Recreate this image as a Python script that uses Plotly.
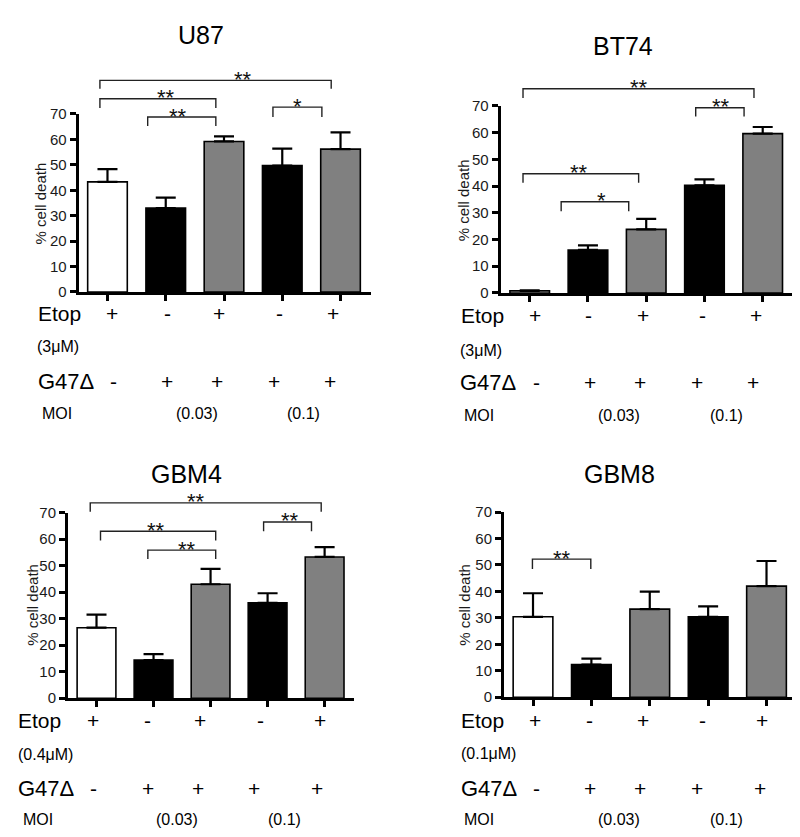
import plotly.graph_objects as go

# ---------------- data ----------------
positions = [0, 1, 2, 3, 4]
etop_signs = ["+", "-", "+", "-", "+"]
g47_signs = ["-", "+", "+", "+", "+"]
moi_labels = ["(0.03)", "(0.1)"]
bar_colors = ["#ffffff", "#000000", "#808080", "#000000", "#808080"]
y_ticks = [0, 10, 20, 30, 40, 50, 60, 70]

panel_names = ["U87", "BT74", "GBM4", "GBM8"]
etop_doses = ["(3μM)", "(3μM)", "(0.4μM)", "(0.1μM)"]

u87_mean = [43.3, 33.0, 59.2, 49.7, 56.2]
u87_err = [5.0, 4.1, 2.0, 6.7, 6.6]
bt74_mean = [0.8, 16.1, 23.8, 40.3, 59.6]
bt74_err = [0.2, 1.7, 3.9, 2.2, 2.5]
gbm4_mean = [26.6, 14.4, 43.0, 36.0, 53.3]
gbm4_err = [4.9, 2.2, 5.8, 3.6, 3.7]
gbm8_mean = [30.4, 12.3, 33.3, 30.4, 42.0]
gbm8_err = [8.9, 2.3, 6.6, 3.9, 9.5]

# significance brackets: (x_left, x_right, y_line, y_leg, star_x, label)
u87_sig = [(-0.13, 3.84, 83.2, 79.9, 2.33, "**"),
           (-0.13, 1.86, 76.0, 72.4, 1.01, "**"),
           (0.69, 1.86, 68.8, 65.3, 1.21, "**"),
           (2.84, 3.68, 72.7, 68.8, 3.27, "*")]
bt74_sig = [(-0.115, 3.85, 76.4, 72.9, 1.87, "**"),
            (2.85, 3.68, 69.3, 66.0, 3.29, "**"),
            (-0.115, 1.87, 44.6, 41.2, 0.85, "**"),
            (0.54, 1.70, 34.1, 30.6, 1.23, "*")]
gbm4_sig = [(-0.11, 3.94, 73.7, 70.4, 1.75, "**"),
            (0.07, 2.09, 63.0, 59.5, 1.05, "**"),
            (0.90, 2.09, 55.9, 52.5, 1.59, "**"),
            (2.93, 3.77, 66.5, 63.0, 3.40, "**")]
gbm8_sig = [(-0.01, 0.99, 52.2, 48.5, 0.50, "**")]

means = [u87_mean, bt74_mean, gbm4_mean, gbm8_mean]
errs = [u87_err, bt74_err, gbm4_err, gbm8_err]
sigs = [u87_sig, bt74_sig, gbm4_sig, gbm8_sig]

# ---------------- layout geometry (pixels in 800x837) ----------------
W, H = 800, 837
FONT = "Liberation Sans, Arial, sans-serif"

def fx(px):
    return px / W

def fy(py):
    return 1 - py / H

panels = [
    dict(xpx=(70.7, 362.7), ypx=(280.7, 99.0), xr=[-0.494, 4.518],
         title=(193, 18), ylab=(32.3, 190),
         rows=dict(etop=(28, 303), dose=(26.7, 336.7), g47=(27.7, 371.7), moi=(32, 405)),
         etop_x=[104.3, 159.3, 211, 271, 325], g47_x=[105.3, 159.3, 209.3, 265.7, 322.3],
         moi_x=[189, 295.7]),
    dict(xpx=(492.7, 785.0), ypx=(281.7, 90.7), xr=[-0.498, 4.52],
         title=(615, 30), ylab=(455, 187),
         rows=dict(etop=(450.7, 305), dose=(450, 340), g47=(450, 373.3), moi=(454.3, 406.7)),
         etop_x=[526.7, 580.3, 635, 694, 748.3], g47_x=[528.3, 581.7, 632.3, 688.7, 745],
         moi_x=[610.7, 718.3]),
    dict(xpx=(60.0, 345.7), ypx=(695.3, 506.0), xr=[-0.5, 4.51],
         title=(178.3, 466.7), ylab=(25, 600),
         rows=dict(etop=(8.3, 718.3), dose=(8.3, 752.7), g47=(8.3, 787.3), moi=(12.7, 819.3)),
         etop_x=[85, 139.3, 192.3, 252.3, 312.3], g47_x=[85.7, 140, 190, 246, 309.3],
         moi_x=[169.3, 276.7]),
    dict(xpx=(496.0, 787.7), ypx=(694.3, 505.3), xr=[-0.497, 4.5],
         title=(611.7, 466.7), ylab=(457, 600),
         rows=dict(etop=(450.7, 718.3), dose=(450.7, 751.7), g47=(450.7, 787.3), moi=(454.3, 819.3)),
         etop_x=[526.7, 581, 635, 694.3, 754], g47_x=[528.3, 581.7, 632.3, 688.7, 751.7],
         moi_x=[610.7, 718.3]),
]

fig = go.Figure()
shapes = []
annotations = []
layout_axes = {}

for k, p in enumerate(panels):
    xa = "x" if k == 0 else f"x{k+1}"
    ya = "y" if k == 0 else f"y{k+1}"
    xdom = [fx(p["xpx"][0]), fx(p["xpx"][1])]
    ydom = [fy(p["ypx"][0]), fy(p["ypx"][1])]

    m = means[k]
    e = errs[k]
    fig.add_trace(go.Bar(
        x=positions, y=m, xaxis=xa, yaxis=ya, width=0.68,
        marker=dict(color=bar_colors, line=dict(color="black", width=1.6)),
        error_y=dict(type="data", array=e, arrayminus=[0] * len(e), symmetric=False,
                     color="black", thickness=2.2, width=10),
        showlegend=False, hoverinfo="skip",
    ))

    axkey_x = "xaxis" if k == 0 else f"xaxis{k+1}"
    axkey_y = "yaxis" if k == 0 else f"yaxis{k+1}"
    layout_axes[axkey_x] = dict(
        domain=xdom, range=p["xr"], anchor=ya, showgrid=False, zeroline=False,
        showline=True, linecolor="black", linewidth=3,
        tickmode="array", tickvals=positions, ticks="outside", ticklen=6,
        tickwidth=2.5, tickcolor="black", showticklabels=False, fixedrange=True)
    layout_axes[axkey_y] = dict(
        domain=ydom, range=[0, 70], anchor=xa, showgrid=False, zeroline=False,
        showline=True, linecolor="black", linewidth=3,
        tickmode="array", tickvals=y_ticks, ticks="outside", ticklen=6,
        tickwidth=2.5, tickcolor="black",
        tickfont=dict(family=FONT, size=15, color="#1a1a1a"), fixedrange=True)

    def ypaper(v, ydom=ydom):
        return ydom[0] + v / 70.0 * (ydom[1] - ydom[0])

    # brackets
    for (xl, xr_, yl, yleg, sx, lab) in sigs[k]:
        shapes.append(dict(type="path", xref=xa, yref="paper",
                           path=f"M {xl} {ypaper(yleg)} L {xl} {ypaper(yl)} L {xr_} {ypaper(yl)} L {xr_} {ypaper(yleg)}",
                           line=dict(color="#222", width=1.4)))
        annotations.append(dict(x=sx, y=ypaper(yl), xref=xa, yref="paper", text=lab,
                                showarrow=False, xanchor="center", yanchor="middle", yshift=1,
                                font=dict(family=FONT, size=22, color="#111")))

    # title
    annotations.append(dict(x=fx(p["title"][0]), y=fy(p["title"][1]), xref="paper", yref="paper",
                            text=panel_names[k], showarrow=False, xanchor="center", yanchor="middle",
                            font=dict(family=FONT, size=25, color="black")))
    # y label
    annotations.append(dict(x=fx(p["ylab"][0]), y=fy(p["ylab"][1]), xref="paper", yref="paper",
                            text="% cell death", textangle=-90, showarrow=False,
                            xanchor="center", yanchor="middle",
                            font=dict(family=FONT, size=15, color="#1a1a1a")))
    rows = p["rows"]
    annotations.append(dict(x=fx(rows["etop"][0]), y=fy(rows["etop"][1]), xref="paper", yref="paper",
                            text="Etop", showarrow=False, xanchor="left", yanchor="middle",
                            font=dict(family=FONT, size=21, color="black")))
    annotations.append(dict(x=fx(rows["dose"][0]), y=fy(rows["dose"][1]), xref="paper", yref="paper",
                            text=etop_doses[k], showarrow=False, xanchor="left", yanchor="middle",
                            font=dict(family=FONT, size=16, color="black")))
    annotations.append(dict(x=fx(rows["g47"][0]), y=fy(rows["g47"][1]), xref="paper", yref="paper",
                            text="G47Δ", showarrow=False, xanchor="left", yanchor="middle",
                            font=dict(family=FONT, size=22, color="black")))
    annotations.append(dict(x=fx(rows["moi"][0]), y=fy(rows["moi"][1]), xref="paper", yref="paper",
                            text="MOI", showarrow=False, xanchor="left", yanchor="middle",
                            font=dict(family=FONT, size=16, color="black")))
    for s, xpx in zip(etop_signs, p["etop_x"]):
        annotations.append(dict(x=fx(xpx), y=fy(rows["etop"][1]), xref="paper", yref="paper",
                                text=s, showarrow=False, xanchor="center", yanchor="middle",
                                font=dict(family=FONT, size=21, color="black")))
    for s, xpx in zip(g47_signs, p["g47_x"]):
        annotations.append(dict(x=fx(xpx), y=fy(rows["g47"][1]), xref="paper", yref="paper",
                                text=s, showarrow=False, xanchor="center", yanchor="middle",
                                font=dict(family=FONT, size=21, color="black")))
    for s, xpx in zip(moi_labels, p["moi_x"]):
        annotations.append(dict(x=fx(xpx), y=fy(rows["moi"][1]), xref="paper", yref="paper",
                                text=s, showarrow=False, xanchor="center", yanchor="middle",
                                font=dict(family=FONT, size=16, color="black")))

fig.update_layout(
    width=W, height=H, margin=dict(l=0, r=0, t=0, b=0),
    paper_bgcolor="white", plot_bgcolor="white",
    shapes=shapes, annotations=annotations, bargap=0.3,
    font=dict(family=FONT),
    **layout_axes,
)

fig.write_html("out.html")
